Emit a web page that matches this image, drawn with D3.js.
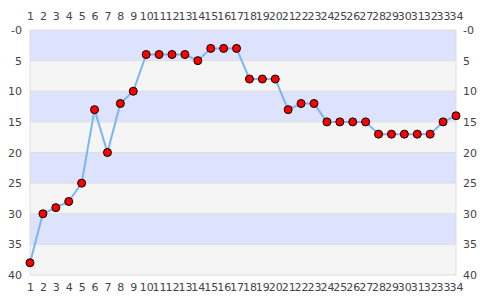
<!DOCTYPE html>
<html>
<head>
<meta charset="utf-8">
<script src="https://cdn.jsdelivr.net/npm/d3@7"></script>
<style>
  body { margin: 0; background: #fff; }
  text { font-family: "DejaVu Sans", sans-serif; font-size: 11px; fill: #444; }
</style>
</head>
<body>
<div id="chart"></div>
<script>
const positions = d3.range(1, 35);
const values = [38, 30, 29, 28, 25, 13, 20, 12, 10, 4, 4, 4, 4, 5, 3, 3, 3, 8, 8, 8,
  13, 12, 12, 15, 15, 15, 15, 17, 17, 17, 17, 17, 15, 14];
const yTicks = [0, 5, 10, 15, 20, 25, 30, 35, 40];
const bands = [[0, 5], [5, 10], [10, 15], [15, 20], [20, 25], [25, 30], [30, 35], [35, 40]];

const width = 485, height = 300;
const margin = { top: 30, right: 29, bottom: 25, left: 30 };
const innerWidth = width - margin.left - margin.right;
const innerHeight = height - margin.top - margin.bottom;

const svg = d3.select("#chart").append("svg")
  .attr("width", width)
  .attr("height", height);

const g = svg.append("g")
  .attr("transform", `translate(${margin.left},${margin.top})`);

const x = d3.scaleLinear().domain([1, 34]).range([0, innerWidth]);
const y = d3.scaleLinear().domain([0, 40]).range([0, innerHeight]);

// alternating bands
g.selectAll(".band")
  .data(bands)
  .enter()
  .append("rect")
  .attr("x", 0)
  .attr("width", innerWidth)
  .attr("y", d => y(d[0]))
  .attr("height", d => y(d[1]) - y(d[0]))
  .attr("fill", (d, i) => i % 2 === 0 ? "#dde3fd" : "#f5f5f5");

// grid lines
g.selectAll(".grid")
  .data(yTicks)
  .enter()
  .append("line")
  .attr("x1", 0).attr("x2", innerWidth)
  .attr("y1", d => y(d)).attr("y2", d => y(d))
  .attr("stroke", "#dddddd")
  .attr("stroke-width", 1);

// frame (left and bottom, right)
g.append("line").attr("x1", 0).attr("x2", 0).attr("y1", 0).attr("y2", innerHeight)
  .attr("stroke", "#dddddd");
g.append("line").attr("x1", innerWidth).attr("x2", innerWidth).attr("y1", 0).attr("y2", innerHeight)
  .attr("stroke", "#dddddd");

// axes
const fmtY = d => d === 0 ? "-0" : d;
const axL = g.append("g").call(d3.axisLeft(y).tickValues(yTicks).tickSize(0).tickPadding(8).tickFormat(fmtY));
const axR = g.append("g").attr("transform", `translate(${innerWidth},0)`)
  .call(d3.axisRight(y).tickValues(yTicks).tickSize(0).tickPadding(7).tickFormat(fmtY));
const axT = g.append("g").call(d3.axisTop(x).tickValues(positions).tickSize(0).tickPadding(10).tickFormat(d3.format("d")));
const axB = g.append("g").attr("transform", `translate(0,${innerHeight})`)
  .call(d3.axisBottom(x).tickValues(positions).tickSize(0).tickPadding(8).tickFormat(d3.format("d")));
[axL, axR, axT, axB].forEach(a => {
  a.select(".domain").remove();
  a.selectAll("text").style("font-family", "DejaVu Sans, sans-serif").style("font-size", "11px").attr("fill", "#444");
});

// line
const line = d3.line()
  .x((d, i) => x(positions[i]))
  .y(d => y(d));

g.append("path")
  .datum(values)
  .attr("fill", "none")
  .attr("stroke", "#7cb5f2")
  .attr("stroke-width", 2)
  .attr("d", line);

g.selectAll(".dot")
  .data(values)
  .enter()
  .append("circle")
  .attr("cx", (d, i) => x(positions[i]))
  .attr("cy", d => y(d))
  .attr("r", 4)
  .attr("fill", "#ff0000")
  .attr("stroke", "#000")
  .attr("stroke-width", 1);
</script>
</body>
</html>
